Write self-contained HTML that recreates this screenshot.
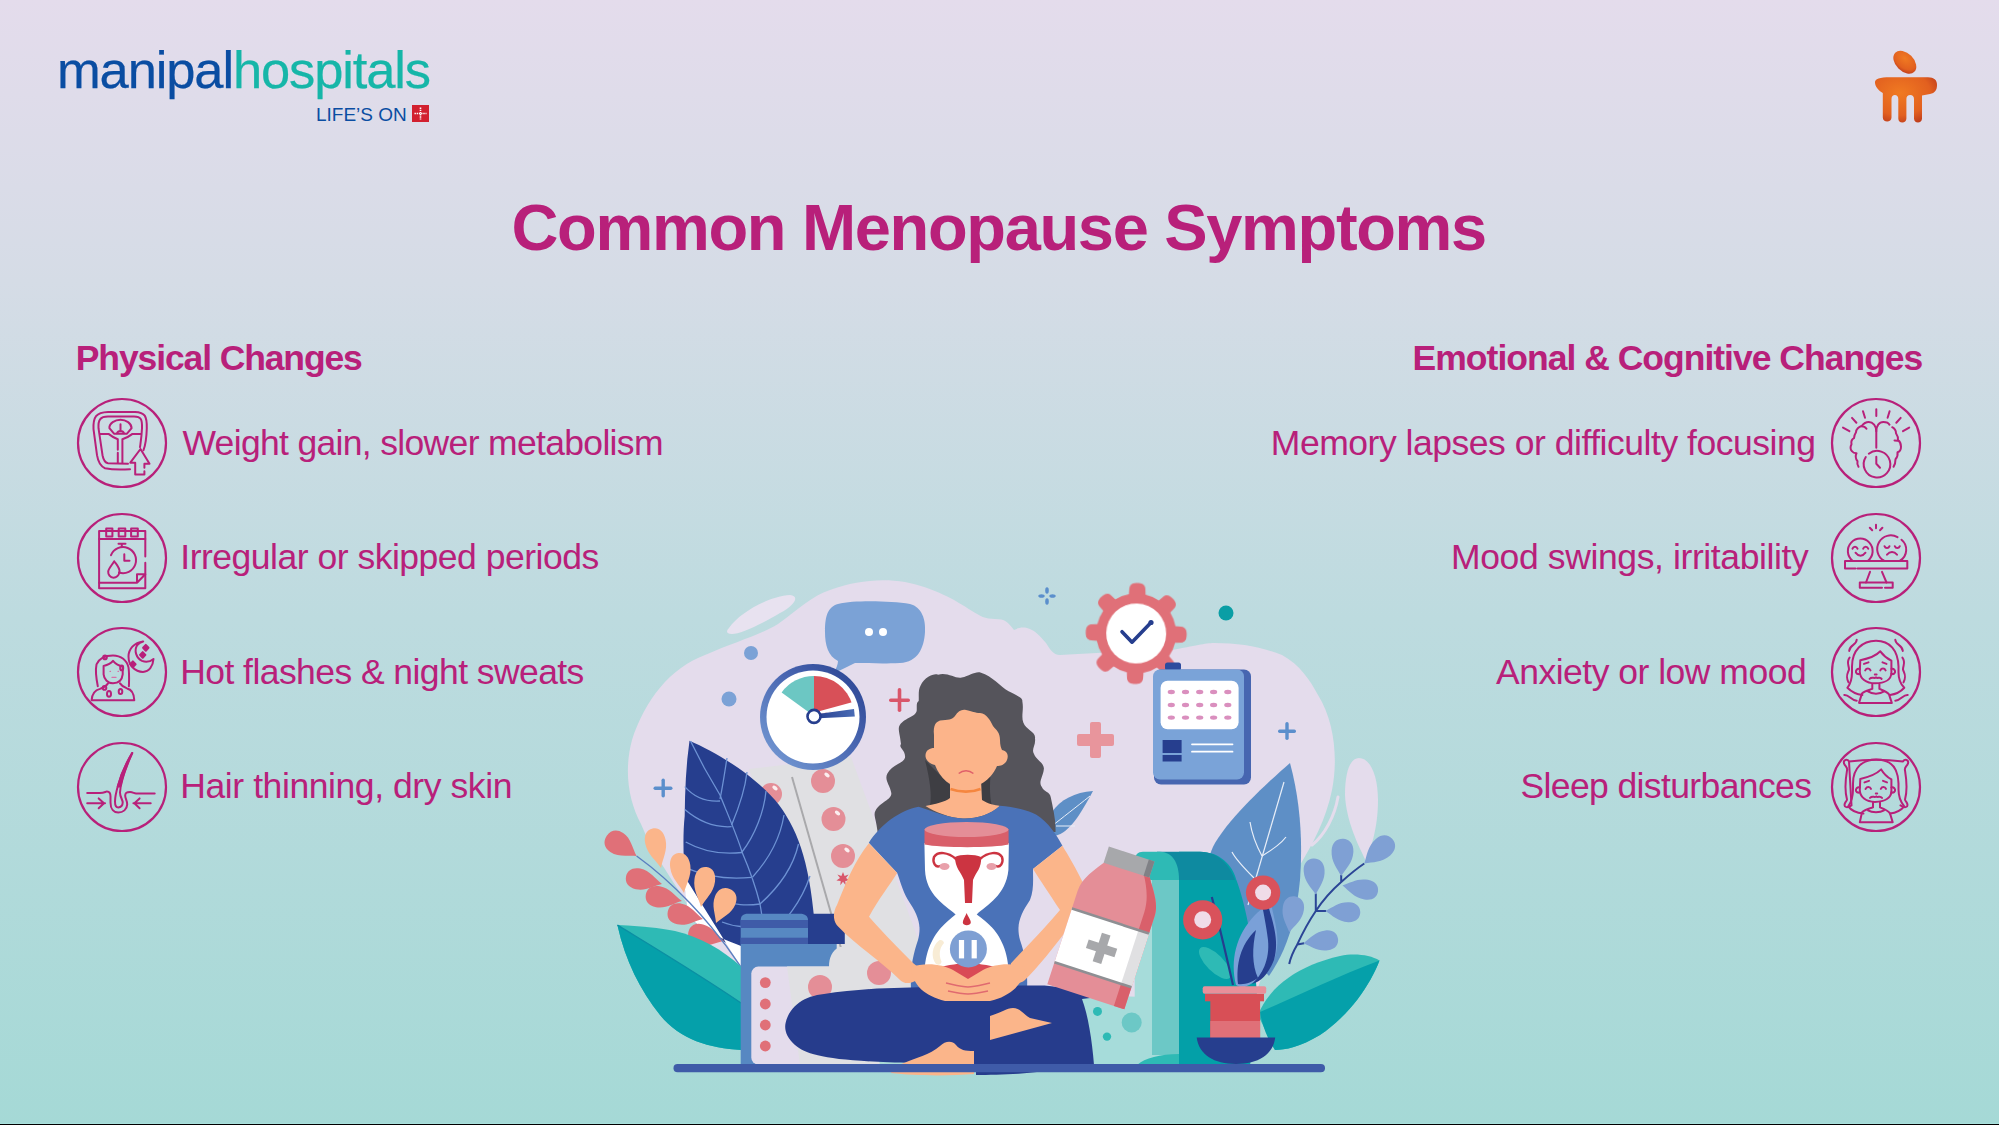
<!DOCTYPE html>
<html><head><meta charset="utf-8">
<style>
html,body{margin:0;padding:0;width:1999px;height:1125px;overflow:hidden;background:#a6d9d6}
svg{display:block;font-family:"Liberation Sans",sans-serif}
.t{fill:#b8207a}
</style></head>
<body>
<svg width="1999" height="1125" viewBox="0 0 1999 1125">
<defs>
<linearGradient id="bg" x1="0" y1="0" x2="0" y2="1">
<stop offset="0" stop-color="#e4dcec"/>
<stop offset="0.25" stop-color="#d5dce6"/>
<stop offset="0.55" stop-color="#bddbdf"/>
<stop offset="1" stop-color="#a5d9d6"/>
</linearGradient>
</defs>
<rect x="0" y="0" width="1999" height="1125" fill="url(#bg)"/>
<rect x="0" y="1123" width="1999" height="1" fill="#a9e2dd"/><rect x="0" y="1124" width="1999" height="1" fill="#000"/>

<!-- logo -->
<g id="logo">
<text x="57" y="88" font-size="52.5" style="letter-spacing:-1.13px"><tspan fill="#0a4da2" stroke="#0a4da2" stroke-width="0.25">manipal</tspan><tspan fill="#16b6a8" stroke="#16b6a8" stroke-width="0.25">hospitals</tspan></text>
<text x="316" y="121" font-size="19" fill="#0a4da2">LIFE’S ON</text>
<rect x="412" y="105" width="17" height="17" fill="#d2202f"/>
<path d="M420.5,107.5 L420.5,119.5 M414.5,113.5 L426.5,113.5" stroke="#fff" stroke-width="1.6" stroke-dasharray="1.4 0.8"/>
</g>
<g id="rlogo">
<defs><radialGradient id="og" cx="0.4" cy="0.35" r="0.7"><stop offset="0" stop-color="#f07a22"/><stop offset="0.7" stop-color="#e2601f"/><stop offset="1" stop-color="#c03e1c"/></radialGradient></defs>
<ellipse cx="1904.8" cy="62.2" rx="13.5" ry="9" transform="rotate(45 1904.8 62.2)" fill="url(#og)"/>
<path fill="url(#og)" d="M1875,83 C1874.5,78.5 1880,77.5 1890,77.3 L1928,77.3 C1934,77.5 1937,80 1937,85 C1937,90 1935,93 1930,94 L1922,95.5 L1922,118.5 C1922,121 1920,122.5 1918,122.5 C1915.8,122.5 1914,121 1914,118.5 L1914,99 C1914,96.5 1912.5,95 1910.2,95 C1908,95 1906.4,96.5 1906.4,99 L1906.4,118.5 C1906.4,121 1904.5,122.5 1902.3,122.5 C1900,122.5 1898.3,121 1898.3,118.5 L1898.3,99 C1898.3,96.5 1896.8,95 1894.9,95 C1893,95 1891.5,96.5 1891.5,99 L1891.5,117.5 C1891.5,120 1889.5,121.5 1887.2,121.5 C1884.8,121.5 1882.8,120 1882.8,117.5 L1882.8,93 C1878.5,90.5 1875.5,87 1875,83 Z"/>
</g>

<!-- title -->
<text class="t" x="511.5" y="250" font-size="65" font-weight="bold" style="letter-spacing:-1.33px">Common Menopause Symptoms</text>

<text class="t" x="75.8" y="370" font-size="35.5" font-weight="bold" style="letter-spacing:-1.12px">Physical Changes</text>
<text class="t" x="1412.6" y="370" font-size="35.5" font-weight="bold" style="letter-spacing:-0.99px">Emotional &amp; Cognitive Changes</text>

<g class="t" font-size="35.5">
<text x="182.4" y="455" style="letter-spacing:-0.67px">Weight gain, slower metabolism</text>
<text x="180.3" y="569" style="letter-spacing:-0.49px">Irregular or skipped periods</text>
<text x="180.3" y="684" style="letter-spacing:-0.57px">Hot flashes &amp; night sweats</text>
<text x="180.3" y="798" style="letter-spacing:-0.42px">Hair thinning, dry skin</text>
<text x="1270.8" y="455" style="letter-spacing:-0.47px">Memory lapses or difficulty focusing</text>
<text x="1451" y="569" style="letter-spacing:-0.38px">Mood swings, irritability</text>
<text x="1496" y="684" style="letter-spacing:-0.5px">Anxiety or low mood</text>
<text x="1520.5" y="798" style="letter-spacing:-0.62px">Sleep disturbances</text>
</g>

<!-- icon circles -->
<g fill="none" stroke="#b8207a" stroke-width="2.2">
<circle cx="122" cy="443" r="44"/>
<circle cx="122" cy="558" r="44"/>
<circle cx="122" cy="672" r="44"/>
<circle cx="122" cy="787" r="44"/>
<circle cx="1876" cy="443" r="44"/>
<circle cx="1876" cy="558" r="44"/>
<circle cx="1876" cy="672" r="44"/>
<circle cx="1876" cy="787" r="44"/>
</g>

<g id="icons"><g fill="none" stroke="#b8207a" stroke-width="2" stroke-linecap="round" stroke-linejoin="round">
<!-- icon1 scale -->
<g transform="translate(122,443.2)">
<path d="M8,26 C0,26.5 -10,26.5 -17,25 C-22,23 -24,18 -25,12 L-28.5,-14 C-29,-26 -26,-31 -14,-31.3 L13,-31.3 C23,-31 25,-27 24.8,-15 C24.5,-5 23,3 21.5,7"/>
<path d="M6,20.5 L-14,20 C-17,19.5 -18.5,17 -19.5,12 L-23.5,-15 C-24,-23 -22,-26.7 -14,-26.7 L12,-26.7 C19,-26.7 20.3,-24 20,-15 C19.5,-5 18.5,0 18,4"/>
<path d="M-22,-9.3 L-13.5,-9.3 C-10,-6.5 -7,-5 -4.2,-4 L-4.2,6.5 M-4.2,9.5 L-4.2,19.5"/>
<path d="M18.4,-9.3 L10.5,-9.3 C7,-6.5 3.5,-5 0.4,-4 L0.4,19.5"/>
<path d="M-12.6,-15 C-13,-20 -7,-23.5 -1.5,-23.5 C4,-23.5 9.5,-20 9.6,-15 L5,-9.5 L-8,-9.5 Z"/>
<path d="M-1.5,-19 L-1.5,-12 M-5,-10 C-4,-13 1,-13 2,-10"/>
<path d="M18.5,5.8 L8.3,19.5 L13.2,19.5 L13.2,31.2 L22.4,31.2 L22.4,28 M22.4,24.5 L22.4,20.5 L27.5,20.5 L18.5,5.8"/>
</g>
<!-- icon2 calendar -->
<g transform="translate(122,558.2)">
<path d="M23.3,-1.8 L23.3,-27.3 L-22.9,-27.3 L-22.9,30 L23.3,30 L23.3,4.5"/>
<path d="M-22.9,-19.1 L23.3,-19.1"/>
<path d="M-15.8,-29.6 h6.2 v8 h-6.2 Z M-3.3,-29.6 h6.6 v8 h-6.6 Z M9.1,-29.6 h6.7 v8 h-6.7 Z"/>
<path d="M-22.9,24.5 L15,24.5 L23.3,16 M15,24.5 L15,16 L23.3,16"/>
<path d="M-0.2,-14.5 L-0.2,-11.5 M-3.5,-14.5 L3.5,-14.5"/>
<path d="M-11,-3 A13,13 0 1 1 -3,14.3"/>
<path d="M2.3,-4 L2.3,2.5 L7.5,2.5"/>
<path d="M-7.8,3 C-5,7 -2,10 -2.5,13.5 C-3,17.5 -6,19.5 -8.5,19.5 C-12,19.5 -14,16 -13.8,13.5 C-13.5,10 -10,7 -7.8,3 Z"/>
</g>
<!-- icon3 woman moon -->
<g transform="translate(122,672.4)">
<path d="M-24.2,13.8 C-26,5 -26.5,-3 -25.5,-8 C-23,-14 -17,-17 -9,-17 C-1,-17 5,-12 6.5,-5 C7.5,2 7,9 6.9,13.8"/>
<path d="M-18.4,-6.5 C-14,-7.5 -11,-9 -9,-11.5 C-6,-8 -3,-6.5 0.7,-6 L0.7,2 C0,8 -4,10.8 -9,10.8 C-14,10.8 -18,7 -18.4,2 Z"/>
<path d="M-30.4,27.8 L12.3,27.8 C12,21 10,17 5,16 C2,15 0,14 -2,11 M-14,11 C-16,14 -18,15 -22,16.5 C-28,18 -30,22 -30.4,27.8"/>
<ellipse cx="-13" cy="21.5" rx="2" ry="2.8"/><ellipse cx="-1.5" cy="19" rx="1.8" ry="2.5"/><circle cx="-17.5" cy="15.5" r="1.8"/><circle cx="-17" cy="-15" r="1.8"/><ellipse cx="-0.3" cy="-4.5" rx="1.5" ry="2.4"/>
<path d="M21.2,-31 C12,-30 6.5,-23 6.5,-16 C6.5,-7 13,-0.5 21,-0.5 C27,-0.5 31,-6 31.5,-13.5 C28,-10.5 24,-10 20,-11.5 C14,-14.5 12,-22 15,-27 C17,-29.5 19,-30.5 21.2,-31 Z"/>
<path d="M23.8,-27.5 L26.5,-24.6 L23.8,-21.7 L21.1,-24.6 Z M20.7,-20.3 L23.4,-17.5 L20.7,-14.7 L18,-17.5 Z M10.9,-11 L13.6,-8.2 L10.9,-5.4 L8.2,-8.2 Z" fill="#b8207a"/>
<path d="M-12,-1 L-11.5,-1 M-4,-1 L-3.5,-1 M-10,5 L-6,5" stroke-width="1.2" stroke="#d870a8"/>
</g>
<!-- icon4 hair follicle -->
<g transform="translate(122,787.4)">
<path d="M-34.8,5.6 L-22,5.6 C-18,5.6 -17,4.5 -15,4 C-12.5,4 -11.5,6 -11.5,9 L-11.5,15 C-11.5,22 -8,25.2 -3.7,25.2 C1,25.2 5,22 5.2,17 C5.3,13 3,11 3.2,8 C3.3,5 5,4.7 8,4.7 C11,4.7 12,6 14,6 L32.7,6"/>
<path d="M10.2,-34.4 C4,-24 -1,-13 -4,-2 C-6,5 -7,10 -7,14 C-7,18 -5.5,20 -3.7,20 C-1,20 0.7,18 0.7,15 C0.7,12 -2,10 -2,5 C-1.5,-5 3,-18 10.2,-34.4 Z"/>
<path d="M10.2,-34.4 C4,-24 -1,-13 -4.2,-1 L-1.8,-1 C1,-13 5,-24 10.2,-34.4 Z" fill="#b8207a"/>
<path d="M-34.8,15.8 L-17,15.8 M-23.3,11 L-18,15.8 L-23.3,20.8"/>
<path d="M28.7,15.8 L11.4,15.8 M17.6,11 L12.4,15.8 L17.6,20.8"/>
</g>
<!-- icon5 brain clock -->
<g transform="translate(1876,443.2)">
<path d="M0.3,-34 L0.3,-27.3 M-13,-32 L-11,-25.5 M-24,-25.3 L-19.6,-20.5 M-33,-15.6 L-26.6,-12 M13.6,-32 L11.6,-25.5 M24.7,-25.3 L20.3,-20.5 M33.2,-15.6 L27,-12"/>
<path d="M0.3,4.5 L0.3,-12 C0.3,-17 -3,-21.3 -7.3,-21.3 C-11,-21.3 -13,-19 -14.4,-17.2 C-17,-16.5 -20,-14 -20,-11 C-21,-9.5 -22,-8 -22,-5 C-24,-4 -25,-1.5 -24.5,1 C-25.5,3 -26,6 -24,8 C-23,9.5 -21,10 -19.5,10 C-21,13 -20,16 -18.5,18 C-19,20 -18.5,22 -17.5,23.6"/>
<path d="M-14.5,-17 C-12,-17 -10.5,-16 -9.5,-14.5"/>
<path d="M0.3,-12 C0.3,-17 3,-21.3 7.3,-21.3 C11,-21.3 13,-19.5 13.5,-18.5 M16.2,-16 C18,-15 20,-13 20,-10 C21,-8.5 22.5,-6 22,-3 C23.5,-2 25,0.5 25,3.5 C25,6.5 23.5,8.5 21.5,9 C22,12 21,14.5 19.5,16 C19.5,19 19,21.5 17.5,23.6"/>
<path d="M18.5,-2.8 L21.5,-2.5"/>
<path d="M-10.2,13.8 A13.3,13.3 0 1 0 -7.2,10.5"/>
<path d="M0.3,13.5 L0.3,20.5 L4,24.5"/>
</g>
<!-- icon6 mood swings -->
<g transform="translate(1876,558.2)">
<path d="M0,-33.5 L0,-30 M-6.2,-30.5 L-3.8,-28 M6.4,-30.5 L4,-28"/>
<path d="M-23.5,2.5 A12.4,12.4 0 1 1 -8,2.5"/>
<path d="M8,2.5 A12.9,12.9 0 0 1 21.5,-21 M25.5,-18.5 A12.9,12.9 0 0 1 24,2.5"/>
<path d="M-23.5,-9.5 C-22.5,-12 -19.5,-12 -18.5,-9.5 M-12.8,-9.5 C-11.8,-12 -8.8,-12 -7.8,-9.5 M-20.5,-5.5 C-17.5,-1.5 -13.5,-1.5 -10.5,-5.5"/>
<path d="M8.5,-12 C9.5,-9.5 12.5,-9.5 13.5,-12 M18.8,-12 C19.8,-9.5 22.8,-9.5 23.8,-12 M11,-3.5 C14,-7 18,-7 21,-3.5"/>
<path d="M-20.5,10.3 L-31,10.3 L-31,2.9 L31.3,2.9 L31.3,10.3 L-18.5,10.3"/>
<path d="M-6,13.6 L-10,24.3 M6,13.6 L10.5,24.3"/>
<path d="M6,29.6 L-16.2,29.6 L-16.2,24.3 L16.7,24.3 L16.7,29.6 L9,29.6"/>
</g>
<!-- icon7 anxiety -->
<g transform="translate(1876,672.4)">
<path d="M-28.6,15.4 C-26,12 -24,8 -24,0 L-24,-6 C-24,-22 -14,-31.7 0,-31.7 C14,-31.7 22,-22 22.5,-6 L22.5,0 C22.5,8 25,12 28.3,15.4 C25,19 20,22 14,22.5 M-13.6,22.5 C-20,22 -25,19 -28.6,15.4"/>
<path d="M-15.7,-12.2 C-6,-14 0,-16.5 4.3,-21.1 C8,-16 11,-14 15.4,-11.7 L15.4,0 C15.4,7 9,10.9 -1,10.9 C-10,10.9 -16.2,6 -16.2,-1 Z"/>
<path d="M-16.2,-3.5 C-19,-4 -20.5,-2 -20,0 C-19.5,1.5 -18,2 -16.2,1.5 M15.4,-3.5 C18,-4 19.5,-2 19,0 C18.5,1.5 17,2 15.4,1.5"/>
<path d="M-12,-8.5 L-7.5,-10 M6.5,-10 L10.5,-8.5 M-10.8,-2 C-9.5,-4.5 -6.5,-4.5 -5.5,-2 M4.3,-2 C5.5,-4.5 8.5,-4.5 9.6,-2"/>
<path d="M-1.2,2 L0.6,2 M-6.4,6.5 C-4,4 -2,6.5 0,5 C2,6.5 4,4 5.6,6.5"/>
<path d="M-3.7,11.5 L-3.7,16.5 C-8,18 -12,19 -14,21 L-17,30.5 L15.8,30.5 L13,22 C11,19 7,18 3.4,16.5 L3.4,11.5 M-8,19 C-4,22 4,22 8,19"/>
<path d="M-19.3,-32.6 C-19.5,-27 -26,-28 -26.8,-21.5 M-26.4,-14.8 C-30,-10 -27,-7 -27,-3 C-28,1 -31,3 -27.5,10 M-31.7,22.5 C-27,22 -25,28 -19.3,28.3 M19.3,-32.6 C19.5,-27 26,-28 26.8,-21.5 M26.4,-14.8 C30,-10 27,-7 27,-3 C28,1 31,3 27.5,10 M31.7,22.5 C27,22 25,28 19.3,28.3"/>
</g>
<!-- icon8 sleep -->
<g transform="translate(1876,787.4)">
<path d="M-27,-26 C-10,-28 10,-28 27,-26 C29,-29 33,-27.5 32,-24 C31,-21 28,-20 29,-17 C31,-5 31,5 29,12 C29,14 33,16 31,19 C29,21 26,19 24.5,18 M-24.5,18 C-26,19 -29,21 -31,19 C-33,16 -29,14 -29,12 C-31,5 -31,-5 -29,-17 C-28,-20 -31,-21 -32,-24 C-33,-27.5 -29,-29 -27,-26 Z"/>
<path d="M-27.7,19 C-25,15 -23,10 -23,2 L-23,-4 C-23,-20 -13,-28 0.3,-28 C14,-28 22,-20 22.5,-4 L22.5,2 C22.5,10 25,15 28.3,19 C25,23 20,25.5 14,26.2 M-12.6,26.2 C-20,25.5 -25,23 -27.7,19"/>
<path d="M-15.7,-8.5 C-6,-10.5 0,-13 5.2,-18 C8.5,-12.5 11,-10.5 15.4,-8 L15.4,3.5 C15.4,10.5 9,14.5 -1,14.5 C-10,14.5 -16.2,9.5 -16.2,2.5 Z"/>
<path d="M-16.2,0 C-19,-0.5 -20.5,1.5 -20,3.5 C-19.5,5 -18,5.5 -16.2,5 M15.4,0 C18,-0.5 19.5,1.5 19,3.5 C18.5,5 17,5.5 15.4,5"/>
<path d="M-11.5,-5 L-7,-6.5 M7,-6.5 L11,-5 M-10.5,1.5 C-9,-1 -6,-1 -5,1.5 M4.8,1.5 C6,-1 9,-1 10,1.5"/>
<path d="M-0.2,6 L1.2,6 M-6,10.5 C-3.5,8 -1.5,10.5 0.3,9 C2,10.5 4,8 6,10.5"/>
<path d="M-3,15 L-3,20 C-8,21.5 -12,22.5 -14,25 L-16.2,34.9 L16.7,34.9 L14,26 C12,23 8,21.5 4,20 L4,15 M-8,23 C-4,25.5 4,25.5 8,23"/>
</g>
</g>
</g><!--ICONSEND-->
<!-- ILLUSTRATION -->
<g id="illus">
<!-- blob -->
<path fill="#e4dcec" d="M641,824 C628,800 624,770 632,740 C645,700 670,668 705,655 C735,642 760,635 778,624 C800,608 812,596 830,590 C855,581 880,578 905,582 C935,588 955,600 972,611 C980,616 985,619 995,619 C1005,619 1008,622 1014,630 C1018,628 1022,627 1027,628 C1035,630 1040,636 1046,643 C1050,649 1053,655 1060,655 L1078,654 C1110,652 1140,652 1172,650 C1195,646 1205,643 1214,643 C1240,643 1262,647 1282,655 C1300,665 1310,680 1318,695 C1335,722 1338,760 1332,790 C1326,820 1312,845 1300,865 L1240,1040 L700,1040 L700,930 C690,900 660,870 641,824 Z"/>
<path fill="#e8e2f0" d="M729,628 C740,612 770,596 790,595 C800,596 795,605 780,613 C760,625 740,634 732,634 C726,634 726,631 729,628 Z"/>
<path fill="#e4dcec" d="M1359,758 C1370,758 1378,775 1378,800 C1378,830 1370,850 1366,861 C1358,845 1346,820 1345,795 C1345,772 1350,758 1359,758 Z"/>
<path fill="none" stroke="#e4dcec" stroke-width="3" stroke-linecap="round" d="M1338,797 C1335,815 1325,835 1312,845"/>
<!-- dots & pluses -->
<circle cx="751" cy="653" r="7" fill="#7ba2d6"/>
<circle cx="729" cy="699" r="7.5" fill="#7ba2d6"/>
<circle cx="1226" cy="613" r="7.5" fill="#0a9ea5"/>
<g fill="#5b8fcc"><rect x="653.5" y="786.5" width="19" height="3.4" rx="1.7"/><rect x="661.5" y="778.5" width="3.4" height="19" rx="1.7"/></g>
<g fill="#5b8fcc"><rect x="1278" y="729.5" width="18" height="3.4" rx="1.7"/><rect x="1285.3" y="722" width="3.4" height="18" rx="1.7"/></g>
<g fill="#d9566a"><rect x="889" y="698.5" width="21" height="3.6" rx="1.8"/><rect x="897.7" y="688" width="3.6" height="24" rx="1.8"/></g>
<g fill="#e8959c"><rect x="1077" y="734" width="37" height="12" rx="2"/><rect x="1090" y="722" width="11" height="36" rx="2"/></g>
<g fill="#5b8fcc"><ellipse cx="1047" cy="590.5" rx="1.8" ry="3.2"/><ellipse cx="1047" cy="601.5" rx="1.8" ry="3.2"/><ellipse cx="1041.5" cy="596" rx="3.2" ry="1.8"/><ellipse cx="1052.5" cy="596" rx="3.2" ry="1.8"/></g>
<!-- speech bubble -->
<path fill="#7ba2d6" d="M838,604 C855,600 890,601 910,604 C922,607 926,620 925,632 C924,648 918,662 900,663 C880,664 870,663 855,663 C848,666 842,670 834,673 C836,668 838,665 838,661 C828,656 825,645 825,632 C825,615 828,607 838,604 Z"/>
<circle cx="869" cy="632" r="4" fill="#fff"/><circle cx="883" cy="632" r="4" fill="#fff"/>
<!-- blister strip -->
<path fill="#e0e0e3" d="M749,769 L851,757 L935,985 L828,1002 Z"/>
<path fill="none" stroke="#a9a9ac" stroke-width="2" d="M792,777 L853,990"/>
<g fill="#e48e97">
<circle cx="771" cy="794" r="11"/><circle cx="823" cy="781" r="12"/><circle cx="833.5" cy="819" r="12"/><circle cx="843" cy="856" r="12"/><circle cx="824" cy="986" r="12"/><circle cx="879" cy="973" r="12"/>
</g>
<g fill="#fff" opacity="0.85">
<ellipse cx="827" cy="775" rx="3" ry="1.8" transform="rotate(35 827 775)"/>
<ellipse cx="837.5" cy="813" rx="3" ry="1.8" transform="rotate(35 837.5 813)"/>
<ellipse cx="847" cy="850" rx="3" ry="1.8" transform="rotate(35 847 850)"/>
<ellipse cx="775" cy="788" rx="3" ry="1.8" transform="rotate(35 775 788)"/>
<ellipse cx="828" cy="980" rx="3" ry="1.8" transform="rotate(35 828 980)"/>
</g>
<path fill="#d9566a" d="M843,872 l1.6,4 4,-1.5 -2.6,3.6 3.6,2.4 -4.3,0.4 0.4,4.3 -2.7,-3.4 -2.7,3.4 0.4,-4.3 -4.3,-0.4 3.6,-2.4 -2.6,-3.6 4,1.5 Z"/>
<!-- gauge -->
<defs>
<linearGradient id="gring" x1="0" y1="1" x2="1" y2="0">
<stop offset="0" stop-color="#7aa0d8"/><stop offset="0.55" stop-color="#4a68b2"/><stop offset="1" stop-color="#263e8e"/>
</linearGradient>
</defs>
<circle cx="813" cy="717" r="53" fill="url(#gring)"/>
<circle cx="813" cy="717" r="46.5" fill="#fff"/>
<path fill="#6cc7c3" d="M814,716 L781.6,692.5 A40,40 0 0 1 814,676 Z"/>
<path fill="#d85058" d="M814,716 L814,676 A40,40 0 0 1 852.4,705 Z"/>
<path fill="#fff" d="M820,711 L853,702 L855,706 L820,714 Z"/>
<defs><linearGradient id="ndl" x1="0" y1="0" x2="1" y2="0"><stop offset="0" stop-color="#263e8e"/><stop offset="1" stop-color="#4a6cb5"/></linearGradient></defs>
<path fill="url(#ndl)" d="M814,714.5 L854,709 L854.8,716.5 L814,718.5 Z"/>
<circle cx="814" cy="716.4" r="6.5" fill="#fff" stroke="#263e8e" stroke-width="2.6"/>
<!-- navy leaf -->
<path fill="#263e8e" d="M689.5,740.8 C715,752 750,772 775,800 C800,830 812,870 816,944 L736,948 C712,935 692,925 688,912 C684,880 682,840 684.7,816 C685,790 686,765 689.5,740.8 Z"/>
<g fill="none" stroke="#6d92d4" stroke-width="1.3">
<path d="M690.5,741 C702,765 712,782 720,795 C728,815 738,838 742,852 C748,866 756,888 760,904 C762,915 764,930 766,948"/>
<path d="M720,799 C723,785 725,770 727,758"/>
<path d="M731.6,825 C740,805 745,790 747,772"/>
<path d="M742,852 C755,835 764,812 766,791"/>
<path d="M752.6,877 C768,860 780,840 784,815"/>
<path d="M760,904 C778,888 793,868 798.5,844"/>
<path d="M765,936 C785,925 802,900 810,876"/>
<path d="M720,801 C705,802 693,796 684.8,786.6"/>
<path d="M731.6,826.7 C712,828 697,820 684.8,809.6"/>
<path d="M742,852.5 C720,855 700,850 685.7,842"/>
<path d="M751.6,877.4 C725,880 705,876 687.7,868.7"/>
<path d="M760.2,904 C745,906 735,905 722,900"/>
<path d="M763,925 C745,928 735,927 722,922"/>
</g>
<!-- light blue leaf right -->
<path fill="#5e8fc6" d="M1290,763 C1265,785 1232,815 1215,843 C1200,870 1208,905 1230,935 L1269,976 C1287,950 1296,920 1300,880 C1303,840 1300,800 1290,763 Z"/>
<g fill="none" stroke="#e8eef8" stroke-width="1.2">
<path d="M1284,782 C1270,830 1258,870 1248,905"/>
<path d="M1262,856 C1256,845 1252,835 1250,822"/>
<path d="M1262,856 C1272,850 1280,845 1286,837"/>
<path d="M1254,878 C1244,868 1236,860 1232,852"/>
</g>
<!-- small blue leaf behind shoulder -->
<path fill="#5e8fc6" d="M1093,791 C1075,792 1060,800 1052,812 C1048,822 1050,830 1055,836 C1070,832 1080,815 1093,791 Z"/>
<g fill="none" stroke="#e8eef8" stroke-width="1"><path d="M1090,796 C1075,808 1062,818 1052,826"/><path d="M1056,826 L1075,826"/></g>
<!-- gear -->
<g fill="#e07078" transform="translate(1136.2,633.5) rotate(1.5)">
<circle r="40"/>
<g id="tooth"><path d="M-8.5,-36 L-8,-45 C-7.5,-49.5 -4,-50.5 0,-50.5 C4,-50.5 7.5,-49.5 8,-45 L8.5,-36 Z"/></g>
<use href="#tooth" transform="rotate(45)"/><use href="#tooth" transform="rotate(90)"/><use href="#tooth" transform="rotate(135)"/><use href="#tooth" transform="rotate(180)"/><use href="#tooth" transform="rotate(225)"/><use href="#tooth" transform="rotate(270)"/><use href="#tooth" transform="rotate(315)"/>
<circle r="30" fill="#fff"/>
</g>
<path fill="none" stroke="#263e8e" stroke-width="3.6" stroke-linecap="round" stroke-linejoin="round" d="M1122,631.7 L1132,642.2 L1151,622.5"/>
<circle cx="1151" cy="622.5" r="2.6" fill="#263e8e"/>
<!-- calendar device -->
<rect x="1165" y="662.5" width="16" height="8" rx="2.5" fill="#2d4b9e"/>
<rect x="1154" y="669.5" width="97" height="115" rx="7" fill="#4766b0"/>
<rect x="1153" y="669.5" width="91" height="110" rx="7" fill="#7aa3d8"/>
<rect x="1160.6" y="680.8" width="78" height="48.5" rx="7" fill="#fff"/>
<g fill="#da8fbe">
<ellipse cx="1171.3" cy="692" rx="3.6" ry="2.2"/><ellipse cx="1185.5" cy="692" rx="3.6" ry="2.2"/><ellipse cx="1199.7" cy="692" rx="3.6" ry="2.2"/><ellipse cx="1213.6" cy="692" rx="3.6" ry="2.2"/><ellipse cx="1227.8" cy="692" rx="3.6" ry="2.2"/>
<ellipse cx="1171.3" cy="705" rx="3.6" ry="2.2"/><ellipse cx="1185.5" cy="705" rx="3.6" ry="2.2"/><ellipse cx="1199.7" cy="705" rx="3.6" ry="2.2"/><ellipse cx="1213.6" cy="705" rx="3.6" ry="2.2"/><ellipse cx="1227.8" cy="705" rx="3.6" ry="2.2"/>
<ellipse cx="1171.3" cy="717.6" rx="3.6" ry="2.2"/><ellipse cx="1185.5" cy="717.6" rx="3.6" ry="2.2"/><ellipse cx="1199.7" cy="717.6" rx="3.6" ry="2.2"/><ellipse cx="1213.6" cy="717.6" rx="3.6" ry="2.2"/><ellipse cx="1227.8" cy="717.6" rx="3.6" ry="2.2"/>
</g>
<rect x="1162.6" y="740" width="19" height="13" fill="#263e8e"/>
<rect x="1162.6" y="755" width="19" height="6.5" fill="#263e8e"/>
<g stroke="#fff" stroke-width="1.8" stroke-linecap="round"><path d="M1192,744.3 L1232.5,744.3"/><path d="M1192,751.7 L1232.5,751.7"/></g>
<!-- left plant branch -->
<defs>
<path id="tear" d="M0,0 C8,-4 14,-11.5 24,-11.5 C31.5,-11.5 36,-7 36,0 C36,7 31.5,11.5 24,11.5 C14,11.5 8,4 0,0 Z"/>
</defs>
<path fill="#fff" d="M683,874 L741,967 L741,946 L736,944 C712,935 692,925 688,912 C686,900 685,888 683,874 Z"/>
<g fill="#e07078">
<use href="#tear" transform="translate(636.6,856) rotate(214) scale(1,1)"/>
<use href="#tear" transform="translate(662,884) rotate(192) scale(1.02,0.92)"/>
<use href="#tear" transform="translate(682,901) rotate(190) scale(1.02,0.92)"/>
<use href="#tear" transform="translate(703,919) rotate(192) scale(1.0,0.92)"/>
<use href="#tear" transform="translate(724,941) rotate(195) scale(1.02,0.92)"/>
</g>
<g fill="#fbb58a">
<use href="#tear" transform="translate(661,868) rotate(258) scale(1.12,0.9)"/>
<use href="#tear" transform="translate(684,893) rotate(262) scale(1.12,0.88)"/>
<use href="#tear" transform="translate(701,907) rotate(278) scale(1.12,0.9)"/>
<use href="#tear" transform="translate(716,923) rotate(292) scale(1.02,0.95)"/>
</g>
<path fill="none" stroke="#5a7fc0" stroke-width="1.4" d="M636.6,856 C670,880 710,920 740.7,966.6"/>
<!-- teal leaf -->
<path fill="#2ebab5" d="M617.4,925 C640,926 660,928 675,931 C700,937 723,950 741,966.6 L741,1050 C710,1048 680,1040 660,1015 C640,990 625,960 617.4,925 Z"/>
<path fill="#05a0aa" d="M617.4,925 C650,945 700,975 741,1003 L741,1050 C710,1048 680,1040 660,1015 C640,990 625,960 617.4,925 Z"/>
<path fill="none" stroke="#0b8fa3" stroke-width="1.4" d="M617.4,925 C650,945 700,975 741,1003"/>
<!-- jar -->
<rect x="740.7" y="944" width="96" height="121" fill="#5788c2"/>
<path fill="#5788c2" d="M740.7,944 L740.7,920 C740.7,916 743,913.7 748,913.7 L800,913.7 C805,913.7 808,916 808,920 L808,944 Z"/>
<rect x="740.7" y="920" width="67.3" height="8" fill="#3f5ba8"/>
<rect x="740.7" y="937.7" width="67.3" height="6.3" fill="#3f5ba8"/>
<path fill="#263e8e" d="M808,944 L808,913.7 L836,913.7 C841,913.7 844.8,918 844.8,923 L844.8,944 Z"/>
<rect x="751.3" y="966.6" width="90" height="98" rx="7" fill="#e4dcec"/>
<path fill="#e0e0e3" d="M787,966.6 L829,966.6 C829,958 832,950 840,947 L858,947 L880,1065 L800,1065 Z"/>
<g fill="#e07078"><circle cx="765.3" cy="982.6" r="5.4"/><circle cx="765.3" cy="1004" r="5.4"/><circle cx="765.3" cy="1025" r="5.4"/><circle cx="765.3" cy="1046" r="5.4"/></g>
<circle cx="820" cy="987" r="12" fill="#e48e97"/>
<!-- woman -->
<path fill="#55545b" d="M920.6,685.4 C925,676 935,673 938,674.7 C948,672 955,679 961.7,677.6 C970,676 975,671 981,672.7 C992,676 1000,686 1008.6,691.3 C1016,695 1023,698 1022.3,701 C1024,710 1021,716 1023.3,722.6 C1026,730 1036,732 1035,738.2 C1036,746 1031,749 1034,753.9 C1036,760 1045,763 1043.8,769.5 C1043,777 1038,782 1041.9,787.1 C1044,792 1050,792 1050.7,796.9 C1053,808 1056,820 1055.5,832 L877.6,832 C876,818 873,815 875.6,810.6 C880,802 892,800 891.3,793 C890,785 884,780 887.4,773.4 C892,765 904,763 905,757.8 C906,750 898,748 901,744.1 C900,735 898,730 899.1,726.5 C903,718 916,717 916.7,710.8 C917,706 916,703 918.7,701 C919,695 918,690 920.6,685.4 Z"/>
<path fill="#3e3e43" d="M925,760 C930,780 932,795 930,806 L992,806 C989,795 990,780 991,768 L975,785 L950,785 Z"/>
<path fill="#fcb48a" d="M934,735 C933,725 936,722 940,720.5 C948,719.5 952,720 955,716 C958,711 962,709 966,710 C972,711 975,713 980,713 C987,714 990,720 993,726 C996,730 1000,732 1000,740 C1000,745 1001,748 1002,750 C1007,751 1009,755 1007,760 C1005,765 1000,766 997,766 C993,775 985,786 966,788.5 C950,788 940,778 935,765 C930,764 925,760 925.5,755 C926,750 930,748 934,748 Z"/>
<path fill="#fcb48a" d="M950,780 L981,780 L982,800 C988,804 995,805 1000,806 C990,815 975,819 962.7,818.4 C950,818 935,812 925.5,806 C935,804 945,802 950,798 Z"/>
<path fill="none" stroke="#f5863f" stroke-width="2.6" d="M950.5,789 C960,792.5 972,792.5 980.5,789"/>
<path fill="none" stroke="#e0606a" stroke-width="1.5" d="M958.7,773.5 C963,769.8 969,769.8 973.4,773.5"/>
<!-- shirt -->
<path fill="#4a72b8" d="M918.7,806.7 C935,812 950,818 962.7,818.4 C975,819 990,815 999.8,805.7 C1015,807 1028,810 1036,814.5 C1048,822 1057,835 1062.4,845.8 L1033,869 C1033,880 1034,890 1030,900 C1020,915 1016,925 1020,940 C1025,955 1028,968 1027,990 L911,990 C910,968 913,955 918,940 C922,925 918,915 908,900 C902,890 900,880 897.2,873.1 L868.8,842.8 C880,825 900,810 918.7,806.7 Z"/>
<!-- hourglass -->
<path fill="#fff" d="M924.4,843 L1008.9,843 L1008.4,870 C1006,895 987,905 976.7,914.4 C992,925 1008,940 1008.9,975 L924.4,975 C925,940 942,925 955.6,914.4 C945,905 926,895 925,870 Z"/>
<path fill="#d95f6a" d="M924.5,829 L1008.6,829 L1008.6,844.5 C995,848 940,848 924.5,844.5 Z"/>
<ellipse cx="966.5" cy="829.5" rx="42" ry="7.5" fill="#e48e97"/>
<path fill="#cc3441" d="M955,857 C960,854 975,854 981,857 C982,868 976,872 973,880 L972,903 L965,903 L964,880 C961,872 955,868 955,857 Z"/>
<g fill="none" stroke="#cc3441" stroke-width="2.4" stroke-linecap="round"><path d="M956,859 C948,852 938,851 934,857 C932,863 936,868 940,866"/><path d="M980,859 C988,852 998,851 1002,857 C1004,863 1000,868 996,866"/></g>
<ellipse cx="944.5" cy="866.5" rx="5" ry="3.4" fill="#e8a0aa"/><ellipse cx="991.5" cy="866.5" rx="5" ry="3.4" fill="#e8a0aa"/>
<path fill="#cc3441" d="M966.7,913 C968,917 971,920 970.8,922.5 C970.5,926 963,926 962.8,922.5 C962.8,920 965,917 966.7,913 Z"/>
<path fill="#f8ecd5" d="M939,940.5 C932,946 930.5,957 936,964 C938.5,965.5 941.5,964.5 941.5,961.5 C938.5,955 939.5,948 944,943 C943.5,940.5 941,939.5 939,940.5 Z"/>
<path fill="#d94a56" d="M934,969 C950,964 960,964 968,962 C976,964 986,964 1002,969 C990,976 980,982 968,984 C956,982 946,976 934,969 Z"/>
<circle cx="968.4" cy="948.9" r="18.5" fill="#7e9fd3"/>
<rect x="958.9" y="940" width="5.2" height="18.4" fill="#fff"/><rect x="971.6" y="940" width="5.2" height="18.4" fill="#fff"/>
<!-- pants -->
<path fill="#263c8c" d="M785.6,1023 C790,1005 805,996 824,994 C850,990 880,988 902,987.8 C960,986 1000,985 1044.4,985.6 C1070,988 1085,992 1091,999 C1095,1020 1096,1045 1094,1068 L1054,1068 C1040,1074 1000,1075 976,1075 L976,1064 C840,1063 810,1058 795,1045 C787,1038 784,1030 785.6,1023 Z"/>
<!-- arms -->
<path fill="#fbb58a" d="M868.9,843.3 L897.2,873.1 C890,885 878,900 869,916.7 C885,935 900,950 913.3,963.3 L924.4,972.2 C915,985 905,985 900,980 C880,960 855,945 836.7,925 C832,918 834,910 837,905 C845,885 855,860 868.9,843.3 Z"/>
<path fill="#fbb58a" d="M1062.4,845.8 C1068,855 1076,868 1084,885 C1088,895 1085,905 1080,912 C1060,940 1040,965 1025,980 C1015,988 1008,980 1011,963.3 C1028,945 1045,928 1060,910 C1050,895 1040,880 1033,869 Z"/>
<path fill="#fbb58a" d="M911,967 C925,962 943,964 953,970 L968,979 L983,970 C993,964 1011,962 1025,967 C1024,983 1012,996 990,1001 L945,1001 C925,996 912,985 911,967 Z"/>
<g fill="none" stroke="#e06a70" stroke-width="1.4"><path d="M946,983 C955,985 962,987 968,987 C974,987 981,985 990,983"/><path d="M948,991 C957,993 962,994 968,994 C974,994 979,993 988,991"/></g>
<path fill="#fbb58a" d="M904,1063 C915,1058 930,1055 940,1046 C945,1041 952,1040 956,1045 C960,1050 965,1051 974,1051 L974,1074 C950,1076 915,1076 891,1073 C893,1068 898,1065 904,1063 Z"/>
<path fill="#fbb58a" d="M990,1016 C1000,1013 1007,1008 1013,1008 C1020,1008 1023,1014 1030,1018 L1052,1023 L990,1040 Z"/>
<!-- mint area & cabinet -->
<path fill="#a6dcda" d="M1082,999 C1100,996 1125,995 1152,998 L1179,998 L1179,1065 L1094,1065 C1092,1040 1088,1015 1082,999 Z"/>
<path fill="#03a0a8" d="M1179,851.8 L1200,851.8 C1220,852 1232,865 1236,879 C1246,905 1255,950 1258,1012 L1250,1065 L1179,1065 Z"/>
<path fill="#0e8aa0" d="M1157,851.8 L1200,851.8 C1219,852 1230,866 1235,880 L1157,880 Z"/>
<path fill="#2ebab5" d="M1134.7,880 L1134.7,860 C1134.7,855 1138,851.8 1143,851.8 L1160,851.8 C1172,852 1179,862 1179,880 Z"/>
<rect x="1134.7" y="880" width="18" height="120" fill="#a6dcda"/>
<rect x="1152" y="880" width="27" height="175" fill="#6cc8c6"/>
<path fill="#2ebab5" d="M1137,1065 C1145,1058 1160,1054 1179,1054 L1179,1065 Z"/>
<circle cx="1131.7" cy="1022.5" r="10" fill="#6cc8c6"/>
<circle cx="1097.5" cy="1011.4" r="4.5" fill="#2ebab5"/>
<circle cx="1107" cy="1036.6" r="4.2" fill="#2ebab5"/>
<!-- bottle -->
<g transform="translate(1047.3,984.3) rotate(18)">
<path fill="#e48e97" d="M0,0 L81,0 L81,-98 C81,-112 70,-124 64,-134 L17,-134 C10,-124 0,-112 0,-98 Z"/>
<path fill="#d9606b" d="M70,0 L81,0 L81,-98 C81,-112 70,-124 64,-134 L58,-134 C64,-124 70,-112 70,-98 Z"/>
<rect x="0" y="-80" width="81" height="57" fill="#fff"/>
<rect x="70" y="-80" width="11" height="57" fill="#e0e0e2"/>
<rect x="0" y="-81" width="81" height="2.6" fill="#8e8f93"/>
<rect x="0" y="-24.5" width="81" height="2.6" fill="#8e8f93"/>
<rect x="25.5" y="-55.5" width="30" height="9" fill="#a7a8ab"/>
<rect x="36" y="-66" width="9" height="30" fill="#a7a8ab"/>
<rect x="16" y="-150" width="48" height="17" fill="#a7a8ab"/>
<rect x="58" y="-150" width="6" height="17" fill="#808186"/>
</g>
<!-- right leaves & pot -->
<defs><path id="tear2" d="M0,0 C5,-4 9,-9.5 16,-9.5 C21.5,-9.5 24,-5 24,0 C24,5 21.5,9.5 16,9.5 C9,9.5 5,4 0,0 Z"/></defs>
<path fill="none" stroke="#2b4596" stroke-width="2" d="M1289.2,964 C1291,955 1294,950 1297.3,944.4 C1303,932 1309,921 1315.8,911 C1323,900 1332,890 1341.2,882 C1349,875 1356,869 1364.3,863.5 M1341.2,882 L1341.2,875 M1315.8,911 L1315.8,893.6 M1315.8,911 L1326.2,911 M1297.3,944.4 L1304.2,943.2"/>
<g fill="#7fa0d4">
<use href="#tear2" transform="translate(1364.3,863.5) rotate(-41) scale(1.55,1.15)"/>
<use href="#tear2" transform="translate(1341.2,876) rotate(-87) scale(1.55,1.15)"/>
<use href="#tear2" transform="translate(1315.8,894.5) rotate(-94) scale(1.5,1.1)"/>
<use href="#tear2" transform="translate(1342.5,885.5) rotate(10) scale(1.5,1.05)"/>
<use href="#tear2" transform="translate(1325.5,911) rotate(3) scale(1.45,1.05)"/>
<use href="#tear2" transform="translate(1289.2,932) rotate(-80) scale(1.5,1.12)"/>
<use href="#tear2" transform="translate(1303.5,943.2) rotate(-7) scale(1.45,1.05)"/>
</g>
<path fill="#2ebab5" d="M1258,1015 C1270,985 1300,965 1340,956 C1355,953 1370,955 1379.5,960.5 C1370,985 1350,1015 1320,1035 C1300,1047 1285,1050 1275,1050 Z"/>
<path fill="#05a0aa" d="M1260,1012 C1300,995 1340,975 1379.5,960.5 C1370,985 1350,1015 1320,1035 C1300,1047 1285,1050 1275,1050 C1268,1040 1262,1025 1260,1012 Z"/>
<ellipse cx="1215" cy="963" rx="21" ry="8.5" transform="rotate(45 1215 963)" fill="#2ebab5"/>
<path fill="#7aa0d8" d="M1236,985 C1230,960 1236,935 1255,915 C1262,908 1268,905 1271,903 C1274,920 1282,940 1274,960 C1266,975 1252,985 1242,988 Z"/>
<path fill="#263e8e" d="M1238,984 C1236,965 1240,945 1256,930 C1252,948 1252,965 1258,978 C1252,982 1245,985 1238,984 Z"/>
<path fill="#263e8e" d="M1252,984 C1262,975 1270,960 1268,940 C1266,925 1264,915 1262,905 L1268,905 C1272,920 1280,940 1274,960 C1268,975 1260,982 1252,984 Z"/>
<path fill="none" stroke="#263e8e" stroke-width="2.2" d="M1211.8,897 C1218,920 1225,950 1233,985"/>
<circle cx="1202.7" cy="919.8" r="19.6" fill="#d9525b"/><circle cx="1202.7" cy="919.8" r="8.5" fill="#f0dce8"/>
<circle cx="1263.1" cy="892.6" r="17.2" fill="#d9525b"/><circle cx="1263.1" cy="892.6" r="8" fill="#f0dce8"/>
<rect x="1210.3" y="1001" width="49.8" height="37" fill="#d84f56"/>
<rect x="1210.3" y="1021" width="49.8" height="17" fill="#e07078"/>
<rect x="1205" y="993.8" width="59" height="7.5" fill="#d84f56"/>
<rect x="1202.7" y="986.2" width="63.5" height="7.6" rx="2" fill="#e8909a"/>
<path fill="#263e8e" d="M1196.7,1037.6 L1275.2,1037.6 C1273,1055 1258,1064 1236,1064 C1214,1064 1199,1055 1196.7,1037.6 Z"/>
<!-- floor -->
<rect x="673.5" y="1064" width="651.5" height="8.3" rx="4.1" fill="#3f5ba8"/>
</g><!--END-->

</svg>
</body></html>
